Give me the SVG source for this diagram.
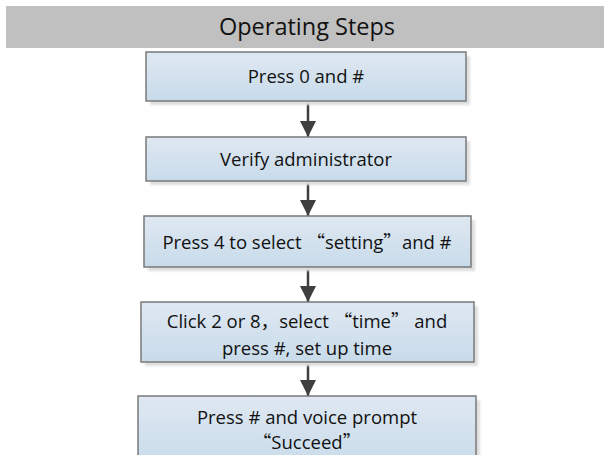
<svg xmlns="http://www.w3.org/2000/svg" width="604" height="455" viewBox="0 0 604 455">
<defs>
<linearGradient id="bf" x1="0" y1="0" x2="0" y2="1">
<stop offset="0" stop-color="#dfe8f2"/>
<stop offset="1" stop-color="#c8dbea"/>
</linearGradient>
<marker id="ah" markerWidth="16" markerHeight="18" refX="16" refY="8" orient="auto" markerUnits="userSpaceOnUse" viewBox="0 0 16 16">
<path d="M0,0 L16,8 L0,16 Z" fill="#3f3f3f"/>
</marker>
<filter id="sh" x="-5%" y="-10%" width="115%" height="130%">
<feGaussianBlur stdDeviation="1"/>
</filter>
</defs>
<style>
.box{fill:url(#bf);stroke:#7a7a7a;stroke-width:1.5}
.shd{fill:#dedede;filter:url(#sh)}
.t{font-family:"Open Sans","Noto Sans",sans-serif;font-size:18.5px;fill:#111;text-anchor:middle}
.cjk{font-family:"Noto Sans CJK SC",sans-serif}
.title{font-family:"Open Sans","Noto Sans",sans-serif;font-size:23.5px;fill:#111;text-anchor:middle}
.c{stroke:#3f3f3f;stroke-width:2.5;fill:none}
</style>
<rect x="6" y="6" width="598" height="42" fill="#c0c0c0"/>
<text class="title" x="307" y="35">Operating Steps</text>
<g id="connectors">
<line class="c" x1="308" y1="101" x2="308" y2="137" marker-end="url(#ah)"/>
<line class="c" x1="308" y1="181" x2="308" y2="216" marker-end="url(#ah)"/>
<line class="c" x1="308" y1="267" x2="308" y2="302" marker-end="url(#ah)"/>
<line class="c" x1="308" y1="362" x2="308" y2="396" marker-end="url(#ah)"/>
</g>
<g id="n1">
<rect class="shd" x="150" y="56" width="320" height="49"/>
<rect class="box" x="146" y="52" width="320" height="49"/>
<text class="t" x="306" y="83">Press 0 and #</text>
</g>
<g id="n2">
<rect class="shd" x="150" y="141" width="320" height="44"/>
<rect class="box" x="146" y="137" width="320" height="44"/>
<text class="t" x="306" y="166">Verify administrator</text>
</g>
<g id="n3">
<rect class="shd" x="148" y="220" width="327" height="51"/>
<rect class="box" x="144" y="216" width="327" height="51"/>
<text class="t" x="307" y="249">Press 4 to select <tspan class="cjk">“</tspan>setting<tspan class="cjk">”</tspan>and #</text>
</g>
<g id="n4">
<rect class="shd" x="145" y="306" width="333" height="60"/>
<rect class="box" x="141" y="302" width="333" height="60"/>
<text class="t" x="307" y="328">Click 2 or 8<tspan class="cjk">，</tspan>select <tspan class="cjk">“</tspan>time<tspan class="cjk">”</tspan> and</text>
<text class="t" x="307" y="355">press #, set up time</text>
</g>
<g id="n5">
<rect class="shd" x="142" y="400" width="338" height="70"/>
<rect class="box" x="138" y="396" width="338" height="70"/>
<text class="t" x="307" y="424">Press # and voice prompt</text>
<text class="t" x="307" y="449"><tspan class="cjk">“</tspan>Succeed<tspan class="cjk">”</tspan></text>
</g>
</svg>
